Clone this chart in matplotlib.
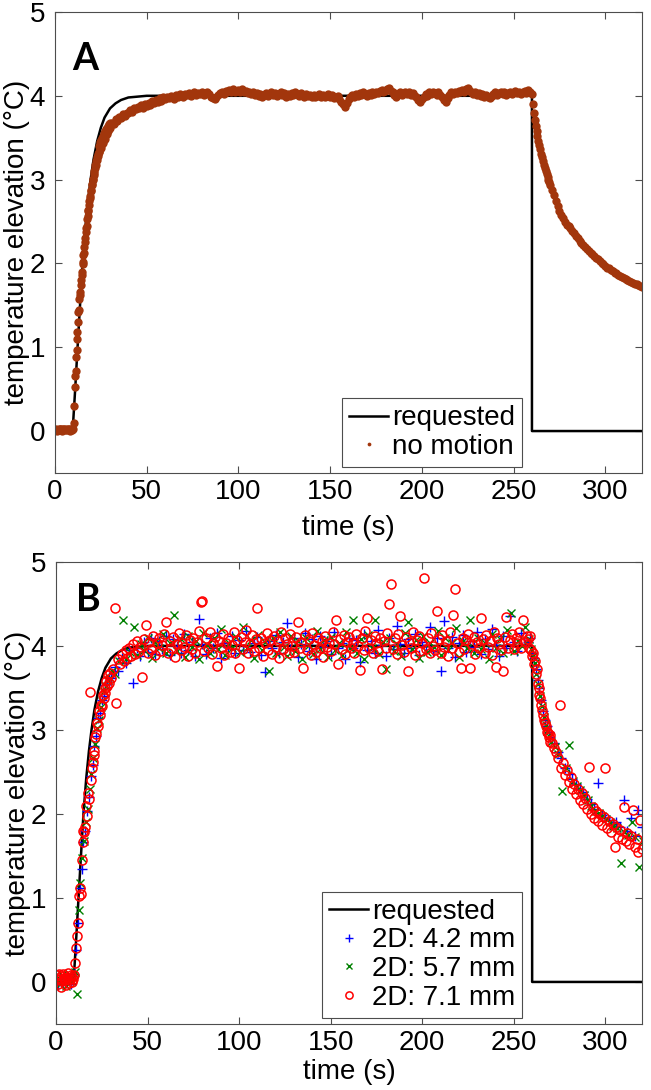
import numpy as np
import matplotlib
matplotlib.use("Agg")
import matplotlib.pyplot as plt

plt.rcParams['font.family'] = ['Liberation Sans', 'DejaVu Sans']

# --- requested temperature curve (same in both panels) ---
req_t = [0, 9.6, 11, 12.3, 13.5, 15, 16.5, 18, 19.4, 21, 23, 25, 27, 30, 33, 36, 40, 45, 50, 260, 260, 320]
req_v = [0, 0, 0.5, 1.0, 1.45, 2.0, 2.42, 2.75, 3.0, 3.24, 3.46, 3.62, 3.74, 3.85, 3.91, 3.95, 3.98, 3.99, 4.0, 4.0, 0, 0]

# --- panel A: no motion (sampling is denser where the curve is steep) ---
noMotion_t = np.concatenate([np.arange(0, 10, 0.5), np.arange(10, 30, 0.25),
                             np.arange(30, 260, 1), np.arange(260, 270, 0.5),
                             np.arange(270, 321, 1)])
noMotion_v = [
    # 0 - 9.5 s
    0.01, 0.02, 0.00, 0.01, 0.03, 0.02, 0.01, 0.02, 0.00, 0.02,
    0.03, 0.01, 0.02, 0.01, 0.03, 0.02, 0.00, 0.02, 0.01, 0.03,
    # 10 - 29.75 s
    0.03, 0.10, 0.30, 0.52, 0.66, 0.72, 0.88, 0.97,
    1.10, 1.18, 1.30, 1.42, 1.45, 1.57, 1.62, 1.66,
    1.74, 1.80, 1.86, 1.90, 1.99, 2.02, 2.10, 2.13,
    2.20, 2.26, 2.30, 2.37, 2.42, 2.45, 2.53, 2.56,
    2.62, 2.64, 2.70, 2.75, 2.78, 2.80, 2.86, 2.88,
    2.93, 2.95, 3.00, 3.01, 3.06, 3.08, 3.10, 3.14,
    3.17, 3.18, 3.22, 3.23, 3.27, 3.28, 3.31, 3.33,
    3.33, 3.40, 3.36, 3.45, 3.38, 3.47, 3.42, 3.50,
    3.44, 3.52, 3.47, 3.56, 3.49, 3.58, 3.52, 3.60,
    3.54, 3.62, 3.55, 3.64, 3.58, 3.66, 3.60, 3.67,
    # 30 - 259 s
    3.62, 3.67, 3.66, 3.72, 3.70, 3.75, 3.73, 3.78, 3.76, 3.80,
    3.79, 3.83, 3.81, 3.85, 3.84, 3.87, 3.85, 3.89, 3.86, 3.90,
    3.88, 3.92, 3.89, 3.94, 3.91, 3.95, 3.93, 3.97, 3.94, 3.98,
    3.96, 3.99, 3.97, 4.00, 3.98, 3.96, 4.01, 3.99, 4.02, 4.00,
    3.98, 4.02, 4.01, 4.03, 4.00, 4.02, 4.04, 4.01, 4.03, 4.02,
    4.04, 4.01, 4.03, 4.05, 4.02, 3.99, 3.97, 3.96, 3.98, 4.01,
    4.03, 4.05, 4.02, 4.06, 4.04, 4.07, 4.05, 4.08, 4.04, 4.06,
    4.07, 4.05, 4.08, 4.04, 4.06, 4.03, 4.05, 4.02, 4.04, 4.01,
    4.03, 4.00, 4.02, 3.99, 4.01, 4.03, 4.00, 4.02, 4.04, 4.01,
    4.03, 4.00, 4.02, 4.04, 4.01, 4.03, 3.99, 4.02, 4.00, 4.03,
    4.01, 4.04, 4.02, 4.00, 4.03, 4.01, 3.99, 4.02, 4.00, 4.01,
    3.99, 4.01, 3.98, 4.00, 4.02, 3.99, 4.01, 3.98, 4.00, 4.02,
    3.99, 4.01, 3.97, 3.99, 4.00, 3.96, 3.93, 3.90, 3.87, 3.91,
    3.96, 3.99, 4.01, 3.98, 4.02, 4.00, 4.03, 4.01, 4.04, 4.02,
    4.00, 4.03, 4.01, 4.04, 4.02, 4.05, 4.03, 4.06, 4.07, 4.05,
    4.06, 4.08, 4.09, 4.06, 4.04, 4.01, 3.99, 4.02, 4.04, 4.01,
    4.03, 4.05, 4.02, 4.04, 4.01, 4.03, 4.00, 3.98, 3.95, 3.93,
    3.96, 3.99, 4.02, 4.00, 4.04, 4.02, 4.05, 4.03, 4.01, 4.04,
    4.01, 3.98, 3.95, 3.93, 3.97, 4.01, 4.04, 4.02, 4.05, 4.03,
    4.06, 4.04, 4.07, 4.05, 4.08, 4.09, 4.06, 4.04, 4.02, 4.04,
    4.01, 4.03, 4.00, 4.02, 3.99, 4.01, 3.98, 3.97, 4.00, 4.02,
    4.04, 4.01, 4.03, 4.05, 4.02, 4.04, 4.01, 4.03, 4.05, 4.02,
    4.04, 4.06, 4.03, 4.05, 4.02, 4.04, 4.06, 4.03, 4.07, 4.05,
    # 260 - 269.5 s
    4.02, 3.90, 3.80, 3.71, 3.64, 3.58, 3.52, 3.46, 3.41, 3.36,
    3.31, 3.27, 3.22, 3.18, 3.14, 3.10, 3.07, 3.03, 3.00, 2.97,
    # 270 - 320 s
    2.94, 2.88, 2.82, 2.75, 2.68, 2.63, 2.58, 2.54, 2.50, 2.46,
    2.45, 2.42, 2.39, 2.36, 2.33, 2.30, 2.27, 2.24, 2.22, 2.19,
    2.17, 2.15, 2.13, 2.11, 2.09, 2.07, 2.05, 2.03, 2.01, 1.99,
    1.97, 1.95, 1.94, 1.92, 1.91, 1.89, 1.88, 1.86, 1.85, 1.84,
    1.83, 1.82, 1.80, 1.79, 1.78, 1.77, 1.76, 1.75, 1.74, 1.73,
    1.72,
]

# --- panel B: three 2D motion amplitudes ---
b_t = np.concatenate([np.arange(0, 10, 1), np.arange(10, 30, 1), np.arange(30, 257, 2),
                      np.arange(258, 271, 1), np.arange(272, 321, 2)])
t42 = b_t
t57 = b_t + 0.33
t71 = np.concatenate([np.arange(0, 10, 0.5), np.arange(10, 30, 0.5), np.arange(30, 258, 1),
                      np.arange(258, 270.5, 0.5), np.arange(271, 321, 1)])

v42 = [
    0.02, -0.04, 0.05, 0.01, -0.02, 0.06, 0.00, 0.04, -0.03, 0.07,
    0.10, 0.38, 0.70, 1.12, 1.35, 1.66, 1.80, 2.04, 2.20, 2.45,
    2.58, 2.81, 2.93, 3.14, 3.20, 3.36, 3.40, 3.53, 3.55, 3.63,
    3.62, 3.75, 3.70, 3.86, 3.80, 3.95, 3.56, 3.98, 3.88, 4.05,
    3.93, 4.10, 3.90, 4.06, 3.96, 4.12, 3.89, 4.08, 4.00, 3.92,
    4.14, 3.95, 4.05, 3.88, 4.32, 4.02, 3.90, 4.10, 3.97, 4.15,
    3.86, 4.04, 3.99, 4.12, 3.91, 4.07, 3.95, 4.18, 3.93, 4.03,
    4.11, 3.89, 3.69, 4.06, 3.98, 4.13, 3.92, 4.05, 4.27, 3.96,
    4.09, 3.87, 4.02, 4.15, 3.94, 4.08, 3.84, 4.12, 3.99, 4.06,
    3.90, 4.17, 3.97, 4.04, 3.85, 4.10, 3.98, 4.07, 3.81, 4.14,
    3.95, 4.06, 3.92, 4.19, 4.01, 3.88, 4.10, 3.96, 4.24, 4.02,
    3.91, 4.08, 3.97, 4.14, 3.89, 4.05, 4.00, 4.22, 3.94, 4.09,
    3.70, 4.30, 3.98, 4.11, 3.87, 4.04, 4.13, 3.93, 4.06, 3.99,
    4.16, 3.90, 4.08, 3.96, 4.20, 4.01, 3.88, 4.12, 3.97, 4.36,
    4.05, 3.94, 4.15, 4.02,
    4.05, 4.10, 3.92, 3.86, 3.72, 3.60, 3.50, 3.36, 3.22, 3.12, 3.05, 2.97, 2.92,
    2.85, 2.74, 2.66, 2.55, 2.47, 2.42, 2.36, 2.30, 2.26, 2.18, 2.12, 2.06, 2.37,
    1.99, 1.95, 1.93, 1.88, 1.90, 1.84, 2.17, 1.80, 1.95, 1.74, 2.05, 1.85,
]

v57 = [
    0.05, 0.00, -0.03, 0.08, 0.02, -0.05, 0.04, 0.10, 0.01, 0.06,
    0.12, -0.14, 0.86, 1.18, 1.47, 1.68, 1.90, 2.06, 2.30, 2.48,
    2.66, 2.83, 3.02, 3.12, 3.27, 3.35, 3.46, 3.52, 3.60, 3.62,
    3.70, 3.66, 3.82, 4.31, 3.84, 3.93, 4.23, 3.89, 4.02, 3.95,
    4.09, 3.86, 4.05, 3.98, 4.14, 3.92, 4.03, 4.37, 3.94, 4.08,
    3.87, 4.12, 3.99, 4.06, 3.84, 4.15, 4.01, 3.91, 4.09, 3.96,
    4.20, 3.89, 4.04, 3.97, 4.11, 3.93, 4.22, 3.98, 4.07, 3.86,
    4.13, 3.95, 4.05, 3.70, 4.10, 3.91, 4.17, 3.99, 3.88, 4.12,
    3.94, 4.06, 3.84, 4.09, 4.01, 3.90, 4.18, 3.96, 4.07, 3.87,
    4.11, 3.95, 4.04, 3.89, 4.16, 3.98, 4.31, 3.92, 4.08, 3.85,
    4.13, 3.97, 4.31, 3.90, 4.05, 3.72, 4.10, 3.94, 4.02, 3.88,
    4.15, 4.29, 3.96, 4.07, 3.86, 4.12, 3.93, 4.04, 3.99, 4.18,
    3.89, 4.09, 3.95, 4.03, 4.21, 3.87, 4.06, 3.98, 4.31, 3.92,
    4.10, 3.96, 4.04, 3.84, 4.14, 3.97, 4.08, 3.91, 4.19, 4.39,
    3.94, 4.06, 4.00, 4.23,
    4.08, 3.96, 3.88, 3.80, 3.66, 3.55, 3.40, 3.28, 3.15, 3.06, 2.99, 2.93, 2.86,
    2.80, 2.71, 2.27, 2.55, 2.82, 2.39, 2.33, 2.28, 2.22, 2.16, 2.10, 2.04, 2.01,
    1.97, 1.94, 1.90, 1.86, 1.83, 1.41, 1.78, 1.75, 1.90, 1.72, 1.37, 1.68,
]

v71 = [
    # 0 - 9.5 s
    0.04, 0.08, -0.02, 0.10, 0.03, -0.06, 0.07, 0.01, 0.09, 0.05,
    0.02, -0.04, 0.06, 0.11, -0.01, 0.04, 0.08, 0.00, 0.06, 0.03,
    # 10 - 29.5 s
    0.08, 0.22, 0.40, 0.55, 0.70, 1.02, 1.12, 1.05, 1.45, 1.80,
    1.66, 1.78, 1.85, 2.10, 1.98, 2.25, 2.18, 3.45, 2.40, 2.55,
    2.62, 2.70, 2.75, 2.92, 2.95, 3.08, 3.05, 3.22, 3.18, 3.30,
    3.28, 3.42, 3.38, 3.50, 3.44, 3.58, 3.52, 3.65, 3.56, 3.68,
    # 30 - 257 s
    3.62, 3.72, 4.45, 3.32, 3.84, 3.78, 3.90, 3.82, 3.95, 3.86,
    3.98, 3.88, 4.02, 3.90, 4.06, 3.93, 3.99, 3.63, 4.08, 4.25,
    3.92, 4.05, 3.96, 4.12, 3.89, 4.03, 4.10, 3.94, 4.01, 4.14,
    4.28, 3.91, 4.06, 3.97, 4.11, 3.87, 4.02, 4.15, 3.95, 4.04,
    3.99, 4.13, 3.88, 4.07, 3.96, 4.10, 3.92, 4.05, 4.18, 4.52,
    4.53, 3.94, 4.09, 3.98, 4.16, 3.90, 4.03, 4.11, 3.76, 4.06,
    3.97, 4.14, 3.89, 4.04, 4.10, 3.93, 4.01, 4.17, 3.92, 4.07,
    3.74, 4.11, 3.96, 4.05, 4.19, 3.91, 4.02, 4.13, 3.94, 4.08,
    4.45, 3.97, 4.10, 3.88, 4.04, 4.15, 3.95, 4.07, 3.90, 4.12,
    3.99, 4.06, 3.86, 4.17, 3.96, 4.09, 4.02, 3.92, 4.14, 4.00,
    3.93, 4.11, 4.28, 3.98, 4.05, 3.74, 4.13, 3.95, 4.08, 3.89,
    4.15, 4.01, 3.93, 4.10, 3.97, 4.06, 3.87, 4.12, 3.99, 4.04,
    3.94, 4.16, 4.02, 4.31, 3.78, 4.08, 3.96, 4.13, 3.90, 4.05,
    4.11, 3.97, 4.03, 3.92, 4.14, 4.00, 3.71, 4.09, 3.95, 4.18,
    4.33, 3.98, 4.07, 3.91, 4.12, 4.03, 3.94, 4.10, 3.73, 4.06,
    3.97, 4.15, 4.50, 4.74, 3.96, 4.09, 3.90, 4.14, 4.36, 4.01,
    3.93, 4.11, 3.70, 4.05, 3.98, 4.16, 3.89, 4.07, 4.12, 3.94,
    4.03, 4.81, 3.96, 4.10, 3.92, 4.15, 4.00, 3.95, 4.41, 4.08,
    3.91, 4.13, 3.99, 4.06, 3.88, 4.17, 3.97, 4.37, 4.68, 4.04,
    3.93, 3.74, 4.10, 3.96, 4.07, 4.14, 3.74, 4.02, 4.11, 3.90,
    4.05, 3.97, 4.33, 4.08, 3.92, 4.13, 3.99, 4.06, 3.89, 4.16,
    3.75, 4.09, 4.02, 3.95, 3.70, 4.11, 4.35, 3.98, 4.07, 4.14,
    3.96, 4.10, 4.03, 4.17, 3.97, 4.31, 4.05, 4.12,
    # 258 - 270 s
    4.08, 3.98, 4.12, 3.95, 3.88, 3.92, 3.78, 3.82, 3.66, 3.72,
    3.55, 3.50, 3.42, 3.38, 3.30, 3.24, 3.18, 3.12, 3.08, 3.05,
    2.98, 2.96, 2.92, 2.94, 2.86,
    # 271 - 320 s
    2.85, 2.78, 2.74, 2.66, 3.30, 2.55, 2.61, 2.46, 2.52, 2.38,
    2.44, 2.30, 2.36, 2.24, 2.30, 2.17, 2.25, 2.12, 2.19, 2.06,
    2.56, 2.00, 2.08, 1.95, 2.03, 1.91, 2.00, 1.87, 1.96, 2.55,
    1.83, 1.92, 1.79, 1.88, 1.61, 1.84, 1.73, 1.81, 1.70, 2.08,
    1.68, 1.77, 1.64, 1.74, 2.05, 1.61, 1.70, 1.55, 1.93, 1.58,
]

panel_labels = ["A", "B"]
legend_a = ["requested", "no motion"]
legend_b = ["requested", "2D: 4.2 mm", "2D: 5.7 mm", "2D: 7.1 mm"]

frame_col = '0.3'


def style(ax, xlab_y):
    ax.set_xlim(0, 320)
    ax.set_ylim(-0.5, 5)
    ax.set_xticks(range(0, 301, 50))
    ax.set_yticks(range(0, 6))
    ax.tick_params(direction='in', length=5, width=0.8, color=frame_col,
                   top=True, right=True, labelsize=20)
    ax.tick_params(axis='x', pad=4)
    ax.tick_params(axis='y', pad=7)
    for s in ax.spines.values():
        s.set_color(frame_col)
        s.set_linewidth(0.8)
    ax.set_xlabel("time (s)", fontsize=20)
    ax.set_ylabel("temperature elevation (°C)", fontsize=20)
    ax.xaxis.set_label_coords(0.5, xlab_y)
    ax.yaxis.set_label_coords(-0.043, 0.5)


def legend(ax, mscale=1.0):
    leg = ax.legend(loc='lower right', bbox_to_anchor=(0.796, 0.013), fontsize=20,
                    handlelength=1.4, handletextpad=0.15, borderpad=0.25,
                    labelspacing=0.1, borderaxespad=0, fancybox=False,
                    framealpha=1, edgecolor=frame_col, markerscale=mscale)
    leg.get_frame().set_linewidth(0.8)


fig = plt.figure(figsize=(6.51, 10.90), dpi=100)

# panel A
axA = fig.add_axes([0.0845, 0.5661, 0.9017, 0.4229])
axA.plot(req_t, req_v, color='black', lw=1.8, label=legend_a[0])
axA.plot(noMotion_t, noMotion_v, ls='none', marker='o', ms=6, mec='none',
         color='#a2360c', label=legend_a[1])
style(axA, -0.092)
legend(axA, 0.45)
axA.text(0.03, 0.874, panel_labels[0], transform=axA.transAxes, fontsize=27,
         fontweight='bold', family=['Lato', 'DejaVu Sans'], ha='left', va='baseline')

# panel B
axB = fig.add_axes([0.0860, 0.0606, 0.9002, 0.4239])
axB.plot(req_t, req_v, color='black', lw=1.8, label=legend_b[0])
axB.plot(t42, v42, ls='none', marker='+', ms=7.5, mew=1.0, color='#0000ff', label=legend_b[1])
axB.plot(t57, v57, ls='none', marker='x', ms=5.5, mew=1.0, color='#008000', label=legend_b[2])
axB.plot(t71, v71, ls='none', marker='o', ms=6.5, mew=1.1, mfc='none', color='#ff0000',
         label=legend_b[3])
style(axB, -0.076)
legend(axB, 0.8)
axB.text(0.035, 0.894, panel_labels[1], transform=axB.transAxes, fontsize=27,
         fontweight='bold', family=['Lato', 'DejaVu Sans'], ha='left', va='baseline')

fig.savefig("out.png", dpi=100)
